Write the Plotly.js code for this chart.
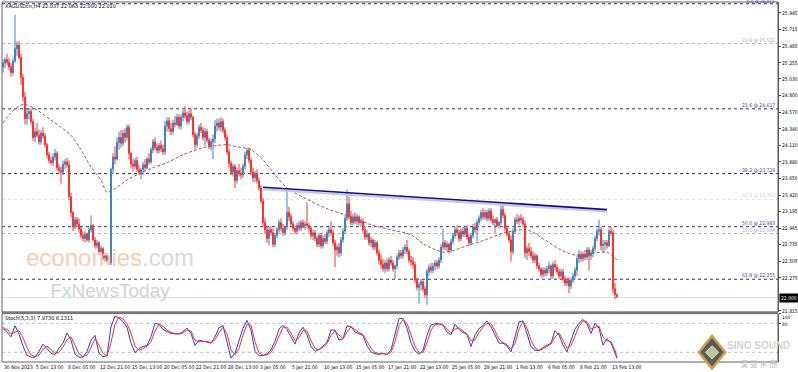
<!DOCTYPE html>
<html><head><meta charset="utf-8">
<script src="https://cdn.plot.ly/plotly-3.0.1.min.js"></script>
<style>html,body{margin:0;padding:0;background:#fff}#chart{width:798px;height:372px}</style>
</head><body><div id="chart"></div>
<script>
// ---------- DATA ----------
const openP = [
25.20,25.25,25.30,25.26,25.20,25.12,25.28,25.45,25.50,25.33,
25.05,24.78,24.48,24.55,24.58,24.44,24.22,24.30,24.25,24.16,
24.28,24.24,24.12,23.98,23.90,23.87,23.95,24.00,23.80,23.76,
23.74,23.85,23.88,23.84,23.40,23.18,22.98,23.08,23.02,22.95,
22.86,22.82,22.88,22.80,22.94,23.00,22.80,22.72,22.76,22.64,
22.68,22.55,22.58,22.52,22.48,23.78,23.95,23.92,24.15,24.22,
24.14,24.28,24.22,24.36,24.00,23.85,23.82,23.90,23.78,23.74,
23.77,23.84,23.80,23.92,23.88,24.05,24.16,24.08,24.04,24.11,
24.06,24.02,24.38,24.45,24.34,24.30,24.42,24.40,24.50,24.38,
24.50,24.56,24.52,24.44,24.55,24.50,24.26,24.12,24.24,24.36,
24.32,24.22,24.30,24.18,24.10,24.16,24.20,24.38,24.42,24.36,
24.44,24.32,24.22,24.02,23.86,23.74,23.82,23.62,23.76,23.72,
23.70,23.82,23.98,24.04,23.90,23.74,23.66,23.72,23.62,23.52,
23.34,23.04,22.94,22.82,22.94,22.90,22.74,22.86,22.94,23.04,
22.96,22.90,22.98,23.18,23.12,23.02,22.96,22.92,23.00,22.96,
23.04,23.00,23.02,23.00,22.96,22.86,22.90,22.82,22.74,22.86,
22.72,22.82,22.78,22.90,22.94,22.90,22.76,22.66,22.70,22.62,
22.80,22.92,23.10,23.30,23.12,23.04,23.12,23.06,23.12,23.04,
23.06,22.94,22.84,22.88,22.76,22.80,22.70,22.76,22.62,22.52,
22.46,22.40,22.48,22.40,22.52,22.48,22.40,22.44,22.56,22.62,
22.58,22.66,22.70,22.64,22.52,22.50,22.46,22.24,22.14,22.18,
22.22,22.12,22.04,22.36,22.42,22.38,22.44,22.48,22.44,22.52,
22.70,22.76,22.70,22.74,22.66,22.78,22.86,22.94,22.90,22.82,
22.92,22.88,22.96,22.84,22.76,22.86,22.98,22.94,23.04,23.10,
23.18,23.12,23.18,23.10,23.20,23.08,23.04,23.08,23.00,23.04,
23.22,23.14,22.96,22.88,22.80,22.64,22.92,23.08,23.06,23.10,
23.08,23.02,22.62,22.68,22.64,22.58,22.52,22.58,22.44,22.40,
22.32,22.38,22.34,22.40,22.44,22.30,22.46,22.42,22.36,22.30,
22.36,22.26,22.20,22.24,22.16,22.24,22.30,22.38,22.54,22.60,
22.54,22.60,22.56,22.66,22.58,22.62,22.68,22.82,22.92,22.94,
22.72,22.74,22.76,22.72,22.92,22.90,22.12,22.04];
const highP = [
25.30,25.33,25.38,25.32,25.25,25.32,25.92,25.55,25.56,25.38,
25.10,24.85,24.62,24.63,24.62,24.48,24.35,24.42,24.33,24.32,
24.36,24.28,24.15,24.02,23.95,24.00,24.06,24.03,23.85,23.82,
23.90,23.92,23.94,23.90,23.45,23.20,23.12,23.12,23.10,22.98,
22.92,22.92,22.90,22.98,23.14,23.02,22.84,22.80,22.78,22.72,
22.70,22.62,22.60,22.56,23.80,24.00,24.10,24.22,24.30,24.32,
24.33,24.35,24.40,24.40,24.02,23.92,23.94,23.95,23.84,23.80,
23.88,23.92,23.95,24.00,24.08,24.20,24.22,24.14,24.14,24.18,
24.12,24.45,24.50,24.50,24.42,24.46,24.52,24.55,24.54,24.54,
24.60,24.66,24.58,24.60,24.62,24.52,24.30,24.28,24.40,24.42,
24.36,24.35,24.34,24.22,24.20,24.26,24.46,24.48,24.48,24.50,
24.48,24.36,24.26,24.06,23.90,23.86,23.85,23.80,23.85,23.80,
23.86,24.02,24.08,24.08,23.94,23.80,23.76,23.78,23.66,23.56,
23.38,23.10,22.98,22.98,22.99,22.96,22.90,22.98,23.08,23.10,
23.02,23.00,23.48,23.26,23.16,23.06,23.00,23.04,23.06,23.08,
23.08,23.06,23.32,23.04,22.98,22.94,22.94,22.86,22.90,22.90,
22.86,22.88,22.94,23.00,23.06,22.94,22.80,22.74,22.76,22.84,
22.96,23.14,23.50,23.40,23.20,23.16,23.18,23.16,23.14,23.10,
23.10,22.98,22.94,22.90,22.84,22.82,22.80,22.78,22.66,22.60,
22.54,22.52,22.54,22.56,22.58,22.52,22.46,22.60,22.66,22.66,
22.70,22.74,22.80,22.68,22.58,22.56,22.50,22.28,22.22,22.26,
22.24,22.16,22.40,22.46,22.48,22.48,22.52,22.52,22.56,22.74,
22.96,22.80,22.78,22.76,22.82,22.90,22.98,23.00,22.94,22.96,
22.98,23.00,23.00,22.88,22.90,23.02,23.04,23.08,23.14,23.22,
23.24,23.22,23.22,23.24,23.24,23.14,23.10,23.12,23.06,23.30,
23.28,23.18,23.00,22.92,22.86,22.96,23.12,23.16,23.14,23.16,
23.12,23.06,22.72,22.76,22.70,22.64,22.62,22.60,22.48,22.42,
22.42,22.42,22.44,22.50,22.46,22.50,22.52,22.46,22.40,22.40,
22.40,22.30,22.28,22.28,22.28,22.34,22.42,22.58,22.66,22.64,
22.64,22.66,22.70,22.70,22.66,22.72,22.86,22.96,23.08,22.98,
22.80,22.80,22.80,22.96,22.98,22.94,22.20,22.06];
const lowP = [
25.12,25.18,25.22,25.15,25.06,25.08,25.25,25.35,25.30,24.95,
24.72,24.40,24.40,24.47,24.40,24.17,24.15,24.22,24.12,24.12,
24.20,24.08,23.93,23.86,23.84,23.82,23.90,23.76,23.72,23.58,
23.70,23.78,23.80,23.35,23.12,22.92,22.95,22.98,22.90,22.82,
22.78,22.76,22.78,22.76,22.90,22.78,22.68,22.68,22.60,22.58,
22.52,22.50,22.49,22.44,22.45,23.72,23.85,23.90,24.05,24.08,
24.10,24.15,24.18,23.92,23.80,23.75,23.78,23.74,23.70,23.64,
23.70,23.76,23.78,23.84,23.85,24.00,24.04,24.00,24.00,24.02,
23.98,23.98,24.30,24.30,24.25,24.26,24.36,24.38,24.34,24.33,
24.44,24.48,24.40,24.40,24.46,24.22,24.06,24.08,24.20,24.28,
24.18,24.10,24.15,24.06,24.04,23.92,24.14,24.30,24.32,24.30,
24.28,24.18,23.98,23.80,23.70,23.68,23.52,23.58,23.68,23.64,
23.66,23.78,23.92,23.86,23.70,23.60,23.60,23.58,23.48,23.30,
22.98,22.88,22.76,22.72,22.86,22.70,22.70,22.82,22.90,22.92,
22.86,22.86,22.94,23.06,23.00,22.92,22.88,22.88,22.92,22.92,
22.96,22.94,22.96,22.90,22.82,22.80,22.78,22.70,22.70,22.68,
22.68,22.74,22.74,22.84,22.86,22.72,22.42,22.58,22.56,22.58,
22.76,22.88,23.06,23.08,23.00,23.00,23.02,23.00,23.00,22.98,
22.90,22.80,22.80,22.72,22.70,22.66,22.66,22.58,22.46,22.40,
22.36,22.34,22.36,22.36,22.44,22.36,22.26,22.40,22.52,22.54,
22.54,22.60,22.60,22.48,22.44,22.40,22.20,22.10,21.92,22.10,
22.08,22.00,21.90,22.30,22.34,22.34,22.38,22.40,22.40,22.48,
22.66,22.66,22.64,22.62,22.62,22.74,22.82,22.86,22.78,22.78,
22.84,22.84,22.80,22.72,22.72,22.82,22.90,22.78,23.00,23.06,
23.08,23.08,23.06,23.06,23.04,23.00,22.90,22.98,22.96,23.00,
23.10,22.92,22.84,22.76,22.50,22.60,22.88,23.02,23.00,23.04,
22.98,22.55,22.52,22.58,22.54,22.48,22.48,22.40,22.36,22.28,
22.28,22.30,22.30,22.34,22.26,22.26,22.38,22.32,22.26,22.26,
22.22,22.16,22.16,22.06,22.12,22.20,22.26,22.30,22.48,22.50,
22.50,22.52,22.52,22.38,22.52,22.56,22.64,22.78,22.86,22.66,
22.62,22.66,22.68,22.70,22.86,22.06,21.98,22.00];
const closeP = [
25.25,25.30,25.26,25.20,25.12,25.28,25.45,25.50,25.33,25.05,
24.78,24.48,24.55,24.58,24.44,24.22,24.30,24.25,24.16,24.28,
24.24,24.12,23.98,23.90,23.87,23.95,24.00,23.80,23.76,23.74,
23.85,23.88,23.84,23.40,23.18,22.98,23.08,23.02,22.95,22.86,
22.82,22.88,22.80,22.94,23.00,22.80,22.72,22.76,22.64,22.68,
22.55,22.58,22.52,22.48,23.78,23.95,23.92,24.15,24.22,24.14,
24.28,24.22,24.36,24.00,23.85,23.82,23.90,23.78,23.74,23.77,
23.84,23.80,23.92,23.88,24.05,24.16,24.08,24.04,24.11,24.06,
24.02,24.38,24.45,24.34,24.30,24.42,24.40,24.50,24.38,24.50,
24.56,24.52,24.44,24.55,24.50,24.26,24.12,24.24,24.36,24.32,
24.22,24.30,24.18,24.10,24.16,24.20,24.38,24.42,24.36,24.44,
24.32,24.22,24.02,23.86,23.74,23.82,23.62,23.76,23.72,23.70,
23.82,23.98,24.04,23.90,23.74,23.66,23.72,23.62,23.52,23.34,
23.04,22.94,22.82,22.94,22.90,22.74,22.86,22.94,23.04,22.96,
22.90,22.98,23.18,23.12,23.02,22.96,22.92,23.00,22.96,23.04,
23.00,23.02,23.00,22.96,22.86,22.90,22.82,22.74,22.86,22.72,
22.82,22.78,22.90,22.94,22.90,22.76,22.66,22.70,22.62,22.80,
22.92,23.10,23.30,23.12,23.04,23.12,23.06,23.12,23.04,23.06,
22.94,22.84,22.88,22.76,22.80,22.70,22.76,22.62,22.52,22.46,
22.40,22.48,22.40,22.52,22.48,22.40,22.44,22.56,22.62,22.58,
22.66,22.70,22.64,22.52,22.50,22.46,22.24,22.14,22.18,22.22,
22.12,22.04,22.36,22.42,22.38,22.44,22.48,22.44,22.52,22.70,
22.76,22.70,22.74,22.66,22.78,22.86,22.94,22.90,22.82,22.92,
22.88,22.96,22.84,22.76,22.86,22.98,22.94,23.04,23.10,23.18,
23.12,23.18,23.10,23.20,23.08,23.04,23.08,23.00,23.04,23.22,
23.14,22.96,22.88,22.80,22.64,22.92,23.08,23.06,23.10,23.08,
23.02,22.62,22.68,22.64,22.58,22.52,22.58,22.44,22.40,22.32,
22.38,22.34,22.40,22.44,22.30,22.46,22.42,22.36,22.30,22.36,
22.26,22.20,22.24,22.16,22.24,22.30,22.38,22.54,22.60,22.54,
22.60,22.56,22.66,22.58,22.62,22.68,22.82,22.92,22.94,22.72,
22.74,22.76,22.72,22.92,22.90,22.12,22.04,22.01];

// moving average (read at sample bars)
const maIdx = [0,4,9,12,17,22,29,34,39,44,49,52,57,62,69,75,82,90,99,105,112,117,124,130,135,142,153,163,171,184,194,204,211,221,231,241,251,262,271,279,286,296,302,307];
const maVal = [24.42,24.56,24.67,24.67,24.60,24.50,24.36,24.25,24.05,23.81,23.63,23.46,23.53,23.63,23.73,23.80,23.87,23.98,24.07,24.10,24.12,24.09,24.05,23.91,23.74,23.52,23.35,23.22,23.15,23.01,22.94,22.87,22.73,22.63,22.71,22.80,22.90,22.94,22.80,22.66,22.59,22.62,22.63,22.52];

// trend line
const trendIdx = [130, 302];
const trendVal = [23.53, 23.22];

// fibonacci levels
const fibLevels = [26.073, 25.521, 24.617, 23.719, 23.362, 22.983, 22.888, 22.255];
const fibLabels = ['0.0 @ 26.073','23.6 @ 25.521','23.6 @ 24.617','38.2 @ 23.719','61.8 @ 23.362','50.0 @ 22.983','38.2 @ 22.888','61.8 @ 22.255'];
const fibKind = ['main','alt','main','main','faint','main','alt','main'];
const lastPrice = 22.000;

// stochastic %K and %D (every 2nd bar, last bar at end)
const stochK = [72,62,52,75,58,33,14,10,10,22,37,28,18,15,29,39,60,45,16,10,
10,22,45,55,18,11,13,73,95,91,83,72,39,19,28,32,34,52,80,78,
67,63,59,58,58,63,70,59,34,45,43,42,39,52,71,75,40,8,18,43,
70,86,66,22,13,13,17,25,43,68,76,67,52,37,60,72,56,32,22,26,
33,41,66,66,45,48,75,73,62,59,55,33,21,17,16,18,15,25,60,90,
90,70,39,23,16,24,55,77,79,79,76,62,56,78,67,61,57,32,56,69,
75,85,73,55,39,39,33,21,50,83,85,57,32,24,24,30,34,39,65,56,
35,21,45,68,80,88,79,59,80,70,35,48,39,16,8];
const stochD = [68,68,58,62,65,50,30,15,11,14,26,33,26,18,20,31,46,52,35,17,
11,14,30,48,35,18,12,40,78,93,89,79,60,33,24,28,32,42,64,78,
74,66,61,59,58,60,66,64,45,42,42,43,40,46,60,72,58,25,15,28,
55,78,76,42,19,14,15,20,34,55,72,72,60,44,50,65,64,44,28,25,
30,38,55,64,55,48,62,73,67,61,57,43,28,20,17,17,16,20,42,75,
88,80,55,32,20,20,40,66,77,79,77,68,60,68,71,64,58,44,46,61,
72,80,79,64,47,40,36,27,38,68,84,70,45,29,24,27,32,37,52,60,
45,28,34,56,74,85,83,68,72,74,52,44,42,25,8];

const priceTicks = [25.945,25.715,25.485,25.255,25.030,24.800,24.570,24.340,24.110,23.880,23.650,23.420,23.195,22.965,22.735,22.505,22.275,21.815];
const stochTicks = [100, 80];
const dateIdx = [0,16,32,48,64,80,96,112,128,144,160,176,192,208,224,240,256,272,288,304];
const dateLabels = ['30 Nov 2023','5 Dec 13:00','8 Dec 05:00','12 Dec 21:00','15 Dec 13:00','20 Dec 05:00','22 Dec 21:00','28 Dec 13:00','3 Jan 05:00','5 Jan 21:00','10 Jan 13:00','15 Jan 05:00','17 Jan 21:00','22 Jan 13:00','25 Jan 05:00','29 Jan 21:00','1 Feb 13:00','6 Feb 05:00','8 Feb 21:00','13 Feb 13:00'];

// ---------- DRAWING ----------
const barIdx = closeP.map((_, i) => i);
const stochIdx = stochK.map((_, j) => Math.min(2 * j, closeP.length - 1));
const FONT = 'Liberation Sans, Arial, sans-serif';
const NARROW = 'Liberation Sans Narrow, DejaVu Sans Condensed, Arial Narrow, sans-serif';
const fibStyle = {
  main:  {color:'#2a2a9a', text:'#3a3aa8'},
  alt:   {color:'#b4b4b4', text:'#b0b0b0'},
  faint: {color:'#dcdcf2', text:'#d0d0ee'}
};

const traces = [
  {type:'candlestick', x:barIdx, open:openP, high:highP, low:lowP, close:closeP,
   xaxis:'x', yaxis:'y', whiskerwidth:0, hoverinfo:'skip',
   increasing:{line:{color:'#4a80b8', width:1}, fillcolor:'#4a80b8'},
   decreasing:{line:{color:'#ff3030', width:1}, fillcolor:'#ff3030'}},
  {type:'scatter', mode:'lines', x:maIdx, y:maVal, xaxis:'x', yaxis:'y', hoverinfo:'skip',
   line:{color:'#b0504a', width:1, dash:'3px,2px', shape:'spline', smoothing:0.8}},
  {type:'scatter', mode:'lines', x:trendIdx, y:trendVal.map(v => v - 0.028), xaxis:'x', yaxis:'y', hoverinfo:'skip',
   line:{color:'#c4c4ec', width:2}},
  {type:'scatter', mode:'lines', x:trendIdx, y:trendVal, xaxis:'x', yaxis:'y', hoverinfo:'skip',
   line:{color:'#10107a', width:1.6}},
  {type:'scatter', mode:'lines', x:stochIdx, y:stochK, xaxis:'x', yaxis:'y2', hoverinfo:'skip',
   line:{color:'#3a3ac0', width:1}},
  {type:'scatter', mode:'lines', x:stochIdx, y:stochD, xaxis:'x', yaxis:'y2', hoverinfo:'skip',
   line:{color:'#ff3030', width:1}}
];

const mainBottom = 0.1389, stochTop = 0.1344;
const shapes = [];
fibLevels.forEach((lv, k) => {
  shapes.push({type:'line', xref:'paper', yref:'y', x0:0, x1:1, y0:lv, y1:lv,
    line:{color:fibStyle[fibKind[k]].color, width:1, dash:'dot'}, layer:'below'});
});
shapes.push({type:'line', xref:'paper', yref:'y', x0:0, x1:1, y0:lastPrice, y1:lastPrice,
  line:{color:'#c6e4ec', width:1}, layer:'below'});
[80, 20].forEach(lv => shapes.push({type:'line', xref:'paper', yref:'y2', x0:0, x1:1, y0:lv, y1:lv,
  line:{color:'#c0c0c0', width:1, dash:'dot'}, layer:'below'}));
shapes.push({type:'rect', xref:'paper', yref:'paper', x0:0, x1:1, y0:mainBottom, y1:1, line:{color:'#606060', width:1}});
shapes.push({type:'rect', xref:'paper', yref:'paper', x0:0, x1:1, y0:0, y1:stochTop, line:{color:'#606060', width:1}});
shapes.push({type:'line', xref:'paper', yref:'paper', x0:0, x1:1, y0:(mainBottom+stochTop)/2, y1:(mainBottom+stochTop)/2, line:{color:'#7a7a7a', width:2}});
// logo diamond
shapes.push({type:'path', xref:'paper', yref:'paper',
  path:'M 0.915 0.072 L 0.932 0.027 L 0.915 -0.018 L 0.898 0.027 Z',
  fillcolor:'#5a5a5a', line:{color:'#c9a24a', width:2.5}});
shapes.push({type:'path', xref:'paper', yref:'paper',
  path:'M 0.915 0.045 L 0.9235 0.027 L 0.915 0.009 L 0.9065 0.027 Z',
  fillcolor:'#b8c890', line:{color:'#e0e0e0', width:1}});

const annotations = [];
annotations.push({xref:'paper', yref:'paper', x:0.003, y:1, xanchor:'left', yanchor:'top', showarrow:false,
  text:'XAGUSDcn,H4 22.037 22.063 22.000 22.010', font:{family:NARROW, size:5.5, color:'#000'}, borderpad:0});
annotations.push({xref:'paper', yref:'y2', x:0.003, y:99, xanchor:'left', yanchor:'top', showarrow:false,
  text:'Stoch(5,3,3) 7.9730 8.1311', font:{family:NARROW, size:5.5, color:'#000'}, borderpad:0});
fibLevels.forEach((lv, k) => {
  annotations.push({xref:'paper', yref:'y', x:0.998, y:lv, xanchor:'right', yanchor:'bottom', showarrow:false,
    text:fibLabels[k], font:{family:NARROW, size:k === 0 ? 4.5 : 5, color:fibStyle[fibKind[k]].text},
    borderpad:0, yshift:k === 0 ? -1.5 : 0});
});
annotations.push({xref:'paper', yref:'y', x:1.001, y:lastPrice, xanchor:'left', yanchor:'middle', showarrow:false,
  text:'22.000', bgcolor:'#000', font:{family:NARROW, size:5, color:'#fff'}, borderpad:1});
// stochastic scale labels (100 sits just under the panel top, as in the reference)
annotations.push({xref:'paper', yref:'y2', x:1.004, y:stochTicks[0], xanchor:'left', yanchor:'top', showarrow:false,
  text:String(stochTicks[0]), font:{family:NARROW, size:4.8, color:'#000'}, borderpad:0});
annotations.push({xref:'paper', yref:'y2', x:1.004, y:stochTicks[1], xanchor:'left', yanchor:'middle', showarrow:false,
  text:String(stochTicks[1]), font:{family:NARROW, size:4.8, color:'#000'}, borderpad:0, yshift:-1.5});
dateIdx.forEach((d, k) => {
  annotations.push({xref:'x', yref:'paper', x:d, y:0, xanchor:'left', yanchor:'top', showarrow:false, yshift:-1,
    text:dateLabels[k], font:{family:NARROW, size:5, color:'#000'}, borderpad:0});
});
// watermarks
annotations.push({xref:'paper', yref:'paper', x:0.139, y:0.248, xanchor:'center', yanchor:'middle', showarrow:false,
  align:'center',
  text:'<span style="color:#f9cdb0">economies</span><span style="color:#d9d9d9">.com</span><br><span style="font-size:19px;color:#d2d2d2">F<span style="color:#bfe0bf">x</span>NewsToday</span>',
  font:{family:FONT, size:24}});
annotations.push({xref:'paper', yref:'paper', x:0.975, y:0.047, xanchor:'center', yanchor:'middle', showarrow:false,
  text:'<b>SINO SOUND</b>', font:{family:FONT, size:10, color:'#d4d4d4'}, borderpad:0});
annotations.push({xref:'paper', yref:'paper', x:0.975, y:-0.005, xanchor:'center', yanchor:'middle', showarrow:false,
  text:'漢 聲 集 團', font:{family:'Noto Sans CJK TC, sans-serif', size:8, color:'#c4c4c4'}, borderpad:0});

const layout = {
  width:798, height:372,
  margin:{l:2, r:20, t:2, b:10, pad:0},
  paper_bgcolor:'#ffffff', plot_bgcolor:'#ffffff',
  showlegend:false,
  xaxis:{range:[-0.5, 387.5], showgrid:false, zeroline:false, showticklabels:false, ticks:'',
         rangeslider:{visible:false}, fixedrange:true, anchor:'y2', showline:false},
  yaxis:{domain:[mainBottom, 1], range:[21.801, 26.097], side:'right', showgrid:false, zeroline:false,
         tickvals:priceTicks, ticktext:priceTicks.map(v => v.toFixed(3)), ticks:'outside', ticklen:2,
         tickcolor:'#444', tickfont:{family:NARROW, size:5, color:'#000'}, showline:true, linecolor:'#505050',
         linewidth:1, fixedrange:true, automargin:false},
  yaxis2:{domain:[0, stochTop], range:[0, 100], side:'right', showgrid:false, zeroline:false,
          tickvals:stochTicks, showticklabels:false, ticks:'outside', ticklen:2, tickcolor:'#444',
          showline:true, linecolor:'#505050', linewidth:1, fixedrange:true, automargin:false},
  shapes:shapes,
  annotations:annotations
};

Plotly.newPlot('chart', traces, layout, {staticPlot:true, displayModeBar:false});
</script>
</body></html>
